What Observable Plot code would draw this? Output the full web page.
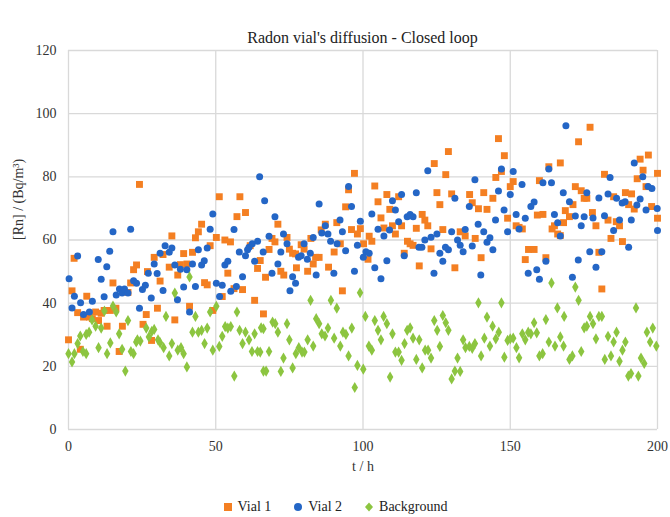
<!DOCTYPE html>
<html>
<head>
<meta charset="utf-8">
<script src="https://cdn.jsdelivr.net/npm/d3@7"></script>
<script src="https://cdn.jsdelivr.net/npm/@observablehq/plot@0.6"></script>
<style>
  body { margin: 0; background: #fff; font-family: "Liberation Serif", "Times New Roman", serif; position: relative; }
  #title { position: absolute; left: 68px; top: 28px; width: 589px; line-height: 20px; text-align: center; font-size: 16px; color: #222; }
  #chart { padding-top: 30px; }
  #legend { width: 670px; display: flex; justify-content: center; gap: 22px; font-size: 14px; color: #222; margin-top: 14px; }
  #legend span { display: inline-flex; align-items: center; gap: 5px; }
</style>
</head>
<body>
<div id="title">Radon vial's diffusion - Closed loop</div>
<div id="chart"></div>
<div id="legend"></div>
<script>
const seriesNames = ["Vial 1", "Vial 2", "Background"];
const seriesColors = ["#f47f22", "#2466c6", "#8cc540"];
const xTicks = [0, 50, 100, 150, 200];
const yTicks = [0, 20, 40, 60, 80, 100, 120];

// Vial 1: [t (h), Rn]
const vial1 = [[0,28.4],[1.2,43.9],[1.9,54.2],[3.1,37.0],[4.0,25.4],[5.1,35.6],[6.2,42.2],[7.1,35.6],[8.1,35.1],[9.2,37.2],[10.2,34.5],[11.1,36.8],[12.1,37.7],[13.1,32.7],[14.2,37.7],[15.1,46.4],[16.1,38.4],[17.2,24.7],[18.3,32.7],[20.2,43.4],[21.1,46.4],[22.1,50.6],[23.1,52.1],[24.1,77.6],[25.3,33.3],[26.4,36.4],[26.8,50.0],[28.2,28.2],[29.1,54.5],[30.2,38.4],[31.1,47.0],
[32.1,55.4],[34.2,51.4],[35.1,61.3],[36.1,34.7],[37.1,48.9],[38.0,52.2],[39.1,55.7],[40.2,52.4],[41.1,39.0],[42.1,56.1],[43.1,60.7],[44.1,62.6],[45.2,65.0],[46.2,46.5],[47.1,45.8],[48.1,58.2],[49.0,37.7],[50.2,60.8],[51.2,73.7],[52.2,42.1],[53.1,60.0],[54.1,49.5],[55.0,59.4],[56.2,44.6],[57.2,67.4],[58.2,73.7],[59.1,44.3],[60.1,68.7],[61.7,58.2],[63.2,40.9],[64.2,51.0],[65.1,53.5],[66.2,36.6],[66.9,48.2],
[68.1,57.0],[69.1,60.5],[70.1,59.4],[71.1,65.0],[72.1,50.1],[73.1,48.9],[74.2,60.8],[75.0,57.1],[76.1,55.8],[77.1,55.6],[77.4,51.2],[79.0,58.5],[80.0,57.1],[81.2,50.1],[82.3,60.5],[83.1,52.4],[83.9,54.5],[85.1,54.5],[85.8,63.2],[87.2,65.0],[88.3,51.4],[90.2,56.2],[91.1,65.5],[92.3,58.8],[93.0,43.9],[94.1,70.5],[95.1,75.9],[96.1,63.3],[97.1,81.1],[98.1,61.9],[99.1,63.6],[100.2,58.8],
[101.7,53.9],[102.1,61.2],[103.0,59.6],[104.0,77.1],[105.1,72.1],[106.1,67.0],[107.1,63.8],[108.1,74.4],[109.1,69.7],[110.0,64.5],[111.0,61.9],[112.1,73.7],[113.1,64.5],[114.0,55.8],[115.1,59.6],[116.0,58.8],[117.0,58.3],[118.1,63.7],[119.1,51.8],[120.1,68.1],[121.0,66.3],[122.0,64.5],[123.1,57.2],[124.2,84.2],[125.1,75.0],[126.1,71.2],[127.1,63.3],[128.1,80.7],[129.0,88.0],[130.1,74.6],[131.2,51.2],[133.0,62.6],[134.7,61.3],
[136.2,74.4],[137.1,71.8],[138.1,60.5],[139.2,69.9],[140.1,54.4],[141.0,75.0],[142.1,69.7],[144.1,73.2],[145.1,79.8],[146.0,92.1],[147.0,81.7],[148.0,86.7],[149.1,66.9],[150.0,76.9],[151.0,78.5],[152.0,64.5],[153.0,64.0],[154.1,63.5],[155.1,53.8],[156.2,57.0],[158.1,57.0],[159.2,67.9],[159.9,78.8],[161.1,68.1],[162.1,54.4],[163.1,83.2],[164.2,63.5],[165.0,64.5],[166.1,61.9],[167.0,61.4],[167.0,84.4],[168.7,69.3],
[168.1,65.5],[170.1,67.4],[171.3,71.2],[172.1,76.9],[173.2,91.1],[174.1,75.6],[175.1,73.2],[176.0,73.2],[177.1,95.7],[177.9,68.7],[179.1,64.5],[180.1,56.1],[181.1,44.5],[182.0,80.8],[183.2,66.3],[184.2,60.5],[185.1,73.7],[186.0,65.8],[187.1,64.5],[188.1,59.5],[189.1,75.0],[190.2,71.2],[191.2,74.6],[192.1,69.8],[193.1,79.4],[194.1,85.6],[195.1,82.1],[196.1,76.9],[196.9,86.9],[198.0,70.6],[200.0,81.1],[200.0,66.9]];

// Vial 2: [t (h), Rn]
const vial2 = [[0.2,47.7],[1.2,38.5],[2.0,42.2],[3.1,54.9],[4.1,40.1],[5.1,36.4],[7.1,37.2],[8.1,40.6],[10.1,53.8],[11.1,47.6],[12.1,42.0],[13.0,51.5],[14.0,56.4],[15.1,62.6],[16.2,42.6],[17.3,44.5],[18.2,43.2],[19.0,44.5],[20.2,43.2],[21.1,63.4],[22.1,47.1],[23.1,46.3],[24.1,38.4],[25.1,44.3],[26.1,45.7],[27.1,49.5],[28.1,41.6],[29.1,52.4],[30.1,49.4],[31.1,55.8],[32.1,44.0],[32.8,58.2],
[34.2,56.1],[35.1,57.5],[36.1,52.1],[37.0,41.1],[38.0,50.7],[39.1,45.1],[40.2,50.6],[41.1,37.2],[42.1,52.4],[43.1,45.3],[44.1,56.9],[45.2,52.1],[46.1,53.4],[47.1,57.5],[48.1,63.4],[49.0,68.2],[50.2,46.3],[51.3,42.1],[52.2,45.7],[53.1,52.1],[54.1,53.3],[55.1,43.8],[56.2,63.3],[57.0,45.3],[58.0,56.2],[59.1,48.4],[60.1,55.0],[60.8,56.9],[61.3,57.7],[62.4,58.8],[63.2,53.3],[64.2,59.6],[64.9,80.0],[66.1,56.2],[66.6,72.4],
[68.1,61.2],[69.1,49.5],[70.1,67.4],[71.1,52.4],[72.1,56.2],[73.0,61.9],[74.2,58.8],[75.2,43.9],[76.1,48.4],[77.1,46.3],[78.1,54.5],[79.0,55.0],[80.0,58.8],[81.1,53.9],[82.1,55.8],[83.1,60.8],[84.1,48.9],[85.1,71.4],[86.0,62.2],[87.2,64.5],[88.1,61.9],[89.0,59.6],[90.1,49.5],[91.2,58.8],[92.2,66.3],[93.0,62.6],[94.1,56.6],[95.1,76.9],[96.1,70.6],[97.1,50.1],[98.1,58.3],[99.1,65.9],[100.1,54.5],
[101.0,56.3],[102.1,55.8],[103.0,68.2],[104.0,51.2],[105.1,63.4],[106.1,47.7],[107.1,61.3],[108.1,53.4],[109.0,63.2],[110.0,72.4],[111.0,69.5],[112.1,65.8],[113.1,74.4],[114.0,55.0],[115.0,67.4],[116.0,68.1],[117.0,67.4],[118.1,75.0],[119.0,57.7],[120.0,57.7],[121.0,60.0],[122.0,81.9],[123.1,60.9],[124.1,49.5],[125.1,61.9],[126.1,55.8],[127.1,53.3],[128.0,57.7],[129.0,56.9],[130.1,62.6],[131.2,73.2],[132.1,60.0],[133.0,58.3],[134.0,56.3],[134.7,63.3],
[136.1,70.6],[137.1,58.1],[138.0,79.1],[139.1,65.0],[140.0,48.9],[141.0,62.6],[142.1,59.3],[143.1,60.7],[144.1,56.9],[145.0,66.3],[146.0,75.5],[147.0,82.5],[147.9,69.5],[149.1,62.6],[150.0,74.4],[151.0,81.7],[152.0,68.1],[153.0,63.5],[154.0,77.6],[155.1,66.9],[156.1,49.5],[157.0,70.6],[158.1,72.0],[159.0,50.6],[159.9,47.6],[161.1,78.1],[162.1,53.3],[163.1,82.5],[164.0,78.1],[165.0,68.1],[166.1,65.5],[167.0,61.3],[168.0,75.0],[168.9,96.2],
[170.1,72.1],[171.1,48.2],[172.1,67.6],[173.1,53.7],[174.1,64.5],[175.1,67.4],[176.0,75.0],[177.0,56.3],[178.1,67.0],[179.1,51.4],[180.1,73.3],[181.1,56.3],[182.0,67.7],[183.2,74.6],[183.9,79.8],[185.1,63.0],[186.1,73.2],[187.1,66.3],[188.0,71.7],[189.0,72.1],[190.2,57.7],[191.1,66.3],[192.1,84.4],[193.0,71.1],[194.1,73.0],[195.0,80.0],[196.1,69.5],[196.8,76.9],[198.1,76.3],[199.9,70.0],[200.0,63.0]];

// Background: [t (h), Rn]
const background = [[0,24.0],[1.2,21.4],[2.0,24.0],[3.1,27.2],[4.0,29.6],[4.9,24.7],[6.0,30.1],[6.0,24.0],[7.0,30.8],[8.0,34.7],[9.2,32.7],[10.2,25.9],[11.1,32.1],[12.2,37.5],[13.1,24.0],[14.2,27.4],[15.1,39.1],[16.2,37.2],[17.2,30.3],[18.2,25.4],[19.3,18.5],[20.2,34.5],[21.2,24.7],[22.1,24.0],[23.0,27.7],[23.4,28.4],[24.4,28.0],[26.4,32.1],[27.3,29.3],[28.3,31.1],[29.1,31.7],[30.4,28.4],[31.1,27.5],[32.3,25.9],
[33.1,35.8],[34.2,23.3],[35.1,27.2],[36.1,43.2],[37.1,25.1],[38.2,25.9],[39.1,24.0],[40.2,19.8],[41.1,48.3],[42.1,30.8],[43.1,35.8],[44.1,30.8],[45.2,31.4],[46.2,27.2],[47.1,32.1],[48.1,37.2],[49.0,25.1],[50.2,39.0],[51.2,26.3],[52.2,29.5],[53.2,32.6],[54.1,32.1],[55.1,32.6],[56.3,16.9],[57.2,37.2],[58.1,31.4],[59.1,27.2],[60.1,30.8],[61.3,28.4],[62.3,24.7],[63.2,30.3],[64.2,24.7],[65.1,24.5],[65.4,32.2],[66.2,18.5],[66.2,31.9],
[67.1,18.5],[68.1,24.7],[69.3,34.0],[70.2,33.5],[71.1,30.8],[72.1,18.4],[73.0,22.6],[74.2,33.5],[75.0,28.4],[76.1,19.5],[77.2,24.0],[78.2,25.9],[79.3,24.5],[80.1,24.5],[81.2,28.4],[82.2,40.9],[83.1,26.4],[84.1,35.1],[85.1,33.5],[86.0,30.3],[87.1,29.6],[88.1,32.1],[89.1,40.9],[90.2,28.9],[91.1,38.4],[92.3,26.4],[93.2,30.8],[94.2,30.1],[95.1,23.3],[96.2,32.1],[97.2,13.3],[98.1,20.3],[99.0,43.3],[100.1,19.1],
[100.8,35.8],[102.0,26.4],[103.0,25.1],[104.0,34.5],[105.1,31.4],[106.1,28.4],[107.0,35.8],[108.1,33.5],[109.2,16.6],[110.0,30.3],[111.0,24.5],[112.1,24.5],[113.1,21.9],[114.1,27.2],[115.0,31.4],[116.0,32.2],[117.0,28.9],[118.1,22.2],[119.1,28.4],[120.1,19.5],[121.1,25.1],[122.1,25.1],[123.1,22.6],[124.2,34.5],[125.2,31.4],[126.1,26.3],[127.1,36.1],[128.1,33.8],[129.0,31.4],[130.1,16.0],[131.2,18.5],[132.1,22.6],[133.0,18.4],[134.0,28.4],[134.8,25.9],
[136.1,26.3],[137.1,25.7],[138.0,27.2],[139.2,40.1],[140.1,23.3],[141.2,28.9],[142.1,35.6],[143.1,26.4],[144.0,32.7],[145.1,28.7],[146.1,30.8],[147.0,40.1],[148.0,22.9],[149.1,28.2],[150.0,28.7],[151.0,28.9],[152.1,25.9],[153.0,22.7],[154.1,30.3],[155.1,28.4],[156.1,30.8],[157.0,30.3],[158.1,33.8],[159.0,30.6],[159.9,23.3],[161.0,24.0],[162.1,34.8],[163.1,27.7],[164.0,46.4],[165.2,26.4],[166.0,38.5],[167.0,29.3],[168.3,35.8],[168.1,26.4],
[170.1,22.2],[171.1,23.3],[172.1,45.1],[173.2,40.9],[174.1,24.7],[175.1,32.2],[176.0,32.7],[177.1,35.8],[178.1,33.5],[179.1,28.7],[180.1,35.8],[181.1,35.8],[182.1,22.2],[183.2,29.5],[184.2,23.3],[185.1,27.7],[186.1,30.8],[187.1,21.6],[188.1,25.1],[189.1,27.7],[190.1,16.9],[191.0,17.7],[192.7,38.5],[193.5,16.9],[194.4,22.6],[195.5,20.9],[196.4,30.8],[197.5,27.7],[198.4,32.1],[199.6,26.4]];

const symbols = ["square", "circle", "diamond"];
const sizes = [3.9, 3.5, 3.4];
const allSeries = [vial1, vial2, background];

const plot = Plot.plot({
  width: 670,
  height: 455,
  marginLeft: 68,
  marginRight: 13,
  marginTop: 20,
  marginBottom: 56,
  x: { domain: [0, 200] },
  y: { domain: [0, 120] },
  style: { fontFamily: "'Liberation Serif', 'Times New Roman', serif", fontSize: "14px", color: "#333", background: "#fff" },
  marks: [
    Plot.gridX(xTicks, { stroke: "#d9d9d9", strokeOpacity: 1, strokeWidth: 1.3 }),
    Plot.gridY(yTicks, { stroke: "#d9d9d9", strokeOpacity: 1, strokeWidth: 1.3 }),
    Plot.axisX(xTicks, { tickSize: 0, tickPadding: 12, label: null, fontSize: 14 }),
    Plot.axisY(yTicks, { tickSize: 0, tickPadding: 12, label: null, fontSize: 14 }),
    ...allSeries.map((data, i) => Plot.dot(data, {
      x: d => d[0], y: d => d[1], symbol: () => symbols[i], r: sizes[i],
      fill: seriesColors[i], stroke: "none"
    })),
    Plot.text(["t / h"], { frameAnchor: "bottom", dy: 41, fontSize: 14, fill: "#333" }),
    Plot.text(["[Rn] / (Bq/m³)"], { frameAnchor: "left", dx: -50, rotate: -90, fontSize: 14, fill: "#333" })
  ]
});
document.getElementById("chart").appendChild(plot);

const legend = document.getElementById("legend");
const legendShapes = [
  '<svg width="10" height="10"><rect x="1" y="1" width="8" height="8" fill="COLOR"/></svg>',
  '<svg width="10" height="10"><circle cx="5" cy="5" r="4" fill="COLOR"/></svg>',
  '<svg width="10" height="10"><path d="M5,0.5L9,5L5,9.5L1,5Z" fill="COLOR"/></svg>'
];
seriesNames.forEach((name, i) => {
  const s = document.createElement("span");
  s.innerHTML = legendShapes[i].replace("COLOR", seriesColors[i]) + name;
  legend.appendChild(s);
});
</script>
</body>
</html>
